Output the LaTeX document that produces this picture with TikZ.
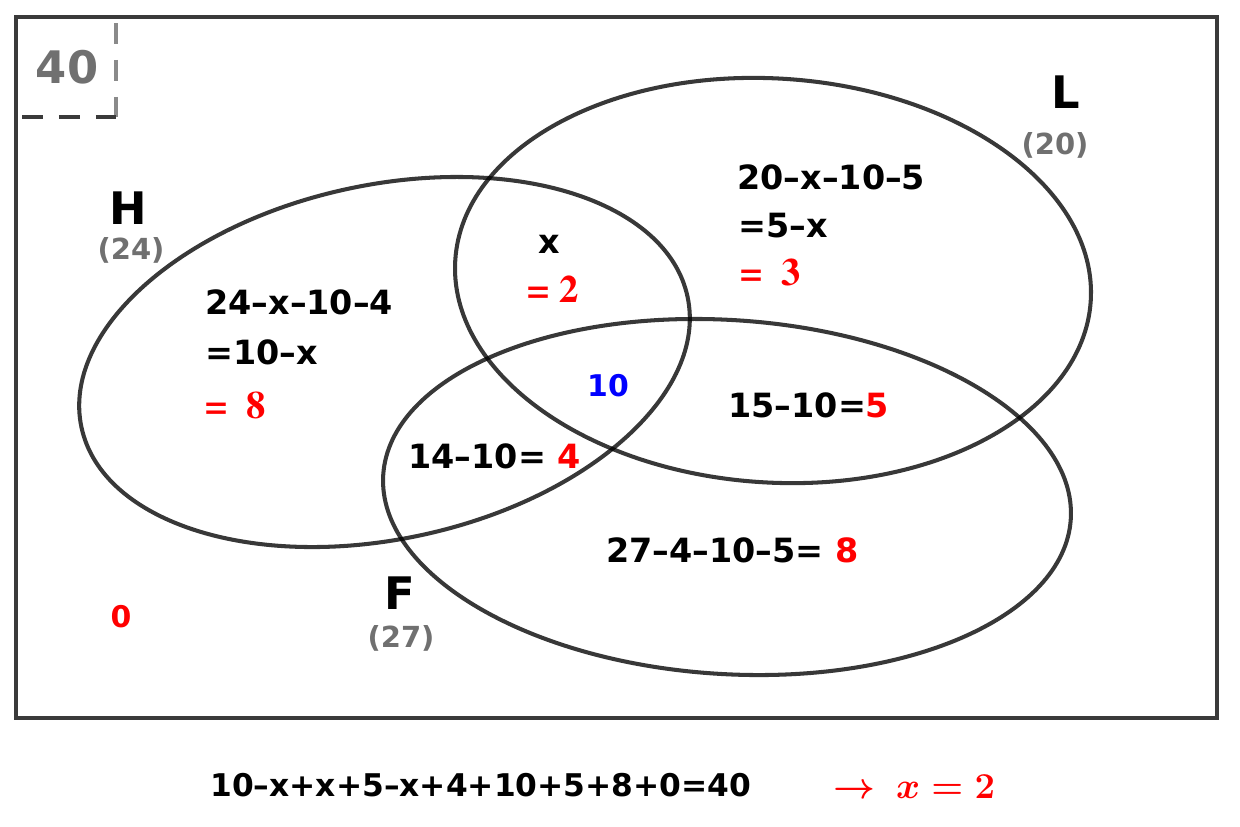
\documentclass[tikz,border=0pt]{standalone}
\usepackage[no-math]{fontspec}
\setmainfont{DejaVu Sans}
\newcommand\timesbold{\usefont{OT1}{ptm}{b}{n}}
\newcommand\cmbarrow{{\usefont{OMS}{cmsy}{b}{n}\symbol{"21}}}
\newcommand\cmbx{\usefont{OML}{cmm}{b}{it}x}
\newcommand\cmbrm[1]{{\usefont{OT1}{cmr}{bx}{n}#1}}
\definecolor{linegray}{HTML}{3A3A3A}
\definecolor{labelgray}{HTML}{707070}
\definecolor{dashgray}{HTML}{8A8A8A}

\begin{document}
\begin{tikzpicture}
  [x=0.2mm,y=-0.2mm,every node/.style={inner sep=0pt},
   venn/.style={draw=black,draw opacity=.78,line width=2.3pt},
   region/.style={anchor=west,font=\fontsize{19}{22}\selectfont\bfseries},
   setname/.style={font=\fontsize{25.5}{30}\selectfont\bfseries},
   setsize/.style={text=labelgray,font=\fontsize{16.5}{20}\selectfont\bfseries},
   answer/.style={anchor=west,text=red,font=\fontsize{22}{24}\timesbold},
   solution/.style={anchor=west,text=red,font=\fontsize{21.5}{24}\selectfont}]
  \useasboundingbox (0,0) rectangle (1240,826);

  % universe and its total
  \draw[linegray,line width=2.3pt] (16,17) rectangle (1217,718);
  \coordinate (corner) at (116,117);
  \draw[dashgray,line width=2.3pt,dash pattern=on 11.9pt off 9.1pt] (116,23) -- (corner);
  \draw[linegray,line width=2.3pt,dash pattern=on 11.9pt off 9.1pt] (22,117) -- (corner);
  \node[text=labelgray,font=\fontsize{25.5}{30}\selectfont\bfseries] (total) at (67,67) {40};

  % the three sets
  \draw[venn,shift={(384.5,362)},rotate=12.2] (0,0) ellipse [x radius=310,y radius=177];
  \draw[venn,shift={(773,280.5)},rotate=-3.7] (0,0) ellipse [x radius=318.4,y radius=202];
  \draw[venn,shift={(727,497)},rotate=-3.7] (0,0) ellipse [x radius=344.5,y radius=177];

  \node[setname] (H) at (128,208) {H};
  \node[setsize] (Hn) at (131,250) {(24)};
  \node[setname] (L) at (1066,92) {L};
  \node[setsize] (Ln) at (1055,145) {(20)};
  \node[setname] (F) at (400,593) {F};
  \node[setsize] (Fn) at (401,638) {(27)};

  % regions
  \node[region] (honly1) at (205,302) {24--x--10--4};
  \node[region] (honly2) at (205,352) {=10--x};
  \node[answer] (honly3) at (205,405) {=\enspace8};
  \node[region,anchor=center] (hl1) at (549,244) {x};
  \node[answer,anchor=center] (hl2) at (553,289) {= 2};
  \node[region] (lonly1) at (737,177) {20--x--10--5};
  \node[region] (lonly2) at (738,226) {=5--x};
  \node[answer] (lonly3) at (740,272) {=\enspace3};
  \node[text=blue,font=\fontsize{17}{20}\selectfont\bfseries] (hlf) at (608,386) {10};
  \node[region] (lf) at (728,405) {15--10=\textcolor{red}{5}};
  \node[region] (hf) at (408,456) {14--10= \textcolor{red}{4}};
  \node[region] (fonly) at (606,550) {27--4--10--5= \textcolor{red}{8}};
  \node[text=red,font=\fontsize{17}{20}\selectfont\bfseries] (none) at (121,617) {0};

  % sum
  \node[anchor=west,font=\fontsize{17.8}{20}\selectfont\bfseries] (sum) at (210,785) {10--x+x+5--x+4+10+5+8+0=40};
  \node[solution] (sol) at (833,787) {\cmbarrow\hspace{0.55em}{\cmbx}\hspace{0.3em}\cmbrm{=}\hspace{0.3em}\cmbrm{2}};
\end{tikzpicture}
\end{document}
